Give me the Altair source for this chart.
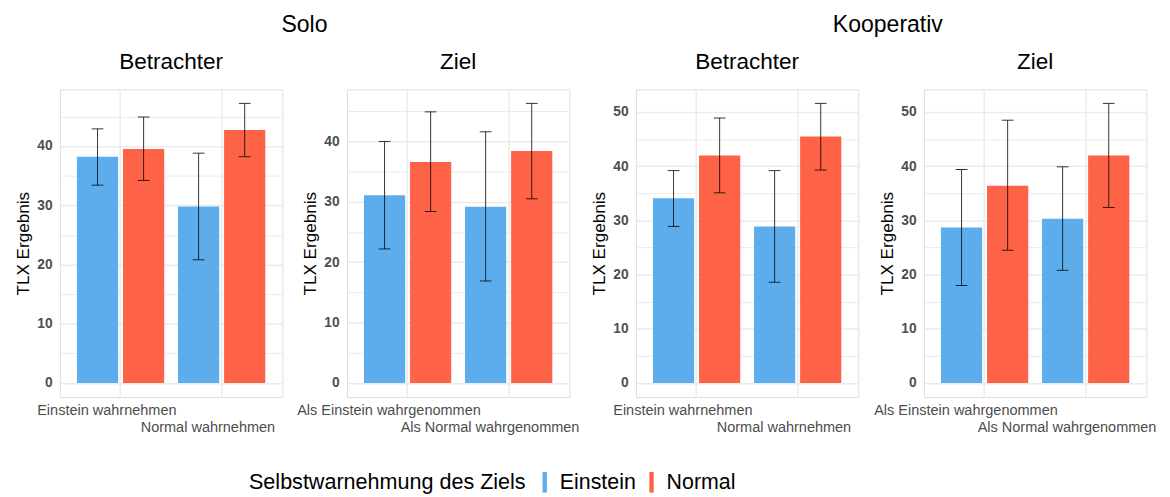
import altair as alt
import pandas as pd

modes = ["Solo", "Solo", "Kooperativ", "Kooperativ"]
roles = ["Betrachter", "Ziel", "Betrachter", "Ziel"]
labels_betr = ["Einstein wahrnehmen", "Normal wahrnehmen"]
labels_ziel = ["Als Einstein wahrgenommen", "Als Normal wahrgenommen"]
selves = ["Einstein", "Normal"]
colors = ["#5DADEC", "#FF6347"]

# order: (cat1, Einstein), (cat1, Normal), (cat2, Einstein), (cat2, Normal)
solo_betr_mean = [38.2, 39.5, 29.8, 42.7]
solo_betr_lo = [33.4, 34.2, 20.8, 38.2]
solo_betr_hi = [42.9, 44.9, 38.8, 47.2]

solo_ziel_mean = [31.1, 36.6, 29.2, 38.4]
solo_ziel_lo = [22.2, 28.4, 16.9, 30.5]
solo_ziel_hi = [40.0, 44.9, 41.6, 46.3]

koop_betr_mean = [34.1, 42.0, 28.9, 45.5]
koop_betr_lo = [28.9, 35.1, 18.6, 39.3]
koop_betr_hi = [39.2, 48.9, 39.2, 51.6]

koop_ziel_mean = [28.7, 36.4, 30.3, 42.0]
koop_ziel_lo = [18.0, 24.5, 20.8, 32.4]
koop_ziel_hi = [39.4, 48.5, 39.9, 51.6]

means = [solo_betr_mean, solo_ziel_mean, koop_betr_mean, koop_ziel_mean]
lows = [solo_betr_lo, solo_ziel_lo, koop_betr_lo, koop_ziel_lo]
highs = [solo_betr_hi, solo_ziel_hi, koop_betr_hi, koop_ziel_hi]

FONT = "Liberation Sans"
PW, PH = 227, 314


def panel(i):
    cats = labels_betr if roles[i] == "Betrachter" else labels_ziel
    rows = []
    k = 0
    for c in cats:
        for s in selves:
            rows.append(dict(cat=c, self=s, mean=means[i][k], lo=lows[i][k], hi=highs[i][k]))
            k += 1
    df = pd.DataFrame(rows)
    top = max(highs[i])
    dom = [-0.05 * top, 1.05 * top]
    vals = list(range(0, int(dom[1] // 5) * 5 + 1, 5))
    loff = -14 if roles[i] == "Betrachter" else -19

    x = alt.X(
        "cat:N", sort=cats, title=None,
        scale=alt.Scale(paddingInner=0.1, paddingOuter=0.15),
        axis=alt.Axis(
            labelAngle=0, ticks=False, domain=False, grid=True, bandPosition=0.5,
            gridColor="#ebebeb", gridWidth=1.5,
            labelFont=FONT, labelFontSize=14.8, labelColor="#4d4d4d",
            labelOverlap=False, labelOffset=loff, labelPadding=6, labelLineHeight=17,
            labelBaseline="top", labelLimit=0,
            labelExpr="indexof(datum.value, 'Normal') >= 0 ? ['', datum.label] : datum.label",
        ),
    )
    xo = alt.XOffset("self:N", sort=selves, scale=alt.Scale(paddingInner=0.106, paddingOuter=0.04))
    yaxis = alt.Axis(
        values=vals, ticks=False, domain=False, grid=True,
        gridColor="#ebebeb",
        gridWidth=alt.expr("datum.value % 10 == 0 ? 1.5 : 1"),
        labelExpr="datum.value % 10 == 0 ? datum.label : ''",
        labelFont=FONT, labelFontSize=14, labelFontWeight="bold", labelColor="#4d4d4d",
        labelPadding=8, title="TLX Ergebnis", titleFont=FONT, titleFontSize=17.5,
        titleFontWeight="normal", titleColor="black", titlePadding=5,
    )
    yscale = alt.Scale(domain=dom, nice=False, zero=False)

    base = alt.Chart(df)
    bars = base.mark_bar().encode(
        x=x, xOffset=xo,
        y=alt.Y("mean:Q", scale=yscale, axis=yaxis),
        y2=alt.datum(0),
        color=alt.Color(
            "self:N", scale=alt.Scale(domain=selves, range=colors),
            legend=alt.Legend(
                orient="none", legendX=193, legendY=390, direction="horizontal",
                titleOrient="left", title="Selbstwarnehmung des Ziels",
                titleFont=FONT, titleFontSize=22, titleFontWeight="normal", titleColor="black",
                titleBaseline="middle", titleAnchor="middle", titleLimit=0,
                labelFont=FONT, labelFontSize=21.8, labelColor="black", labelLimit=0,
                symbolType="M-0.21,-1H0.21V1H-0.21Z", symbolSize=441,
                symbolStrokeWidth=0, symbolOpacity=1,
                columnPadding=5, labelOffset=4.5, titlePadding=8, padding=0,
            ),
        ),
    )
    rule = base.mark_rule(color="black", opacity=0.8, strokeWidth=1).encode(
        x=x, xOffset=xo,
        y=alt.Y("lo:Q", scale=yscale, axis=yaxis),
        y2="hi:Q",
    )
    cap_lo = base.mark_tick(color="black", opacity=0.8, size=12, thickness=1).encode(
        x=x, xOffset=xo, y=alt.Y("lo:Q", scale=yscale, axis=yaxis),
    )
    cap_hi = base.mark_tick(color="black", opacity=0.8, size=12, thickness=1).encode(
        x=x, xOffset=xo, y=alt.Y("hi:Q", scale=yscale, axis=yaxis),
    )
    return alt.layer(bars, rule, cap_lo, cap_hi).properties(
        width=PW, height=PH,
        title=alt.Title(roles[i], font=FONT, fontSize=23, fontWeight="normal",
                        color="black", anchor="middle", offset=16),
    )


p = [panel(i) for i in range(4)]

solo = alt.hconcat(p[0], p[1], spacing=13).resolve_scale(x="independent", y="independent").properties(
    title=alt.Title("Solo", font=FONT, fontSize=23.5, fontWeight="normal", color="black",
                    anchor="middle", offset=15, dx=8)
)
koop = alt.hconcat(p[2], p[3], spacing=14).resolve_scale(x="independent", y="independent").properties(
    title=alt.Title("Kooperativ", font=FONT, fontSize=23.5, fontWeight="normal", color="black",
                    anchor="middle", offset=15, dx=15)
)

chart = alt.hconcat(solo, koop, spacing=9).resolve_scale(
    x="independent", y="independent", color="shared"
).properties(
    padding={"left": 5, "top": 0, "right": 5, "bottom": 0}
).configure_view(stroke=None).configure(background="white")

chart.save("out.html", embed_options={"renderer": "svg", "actions": False})
